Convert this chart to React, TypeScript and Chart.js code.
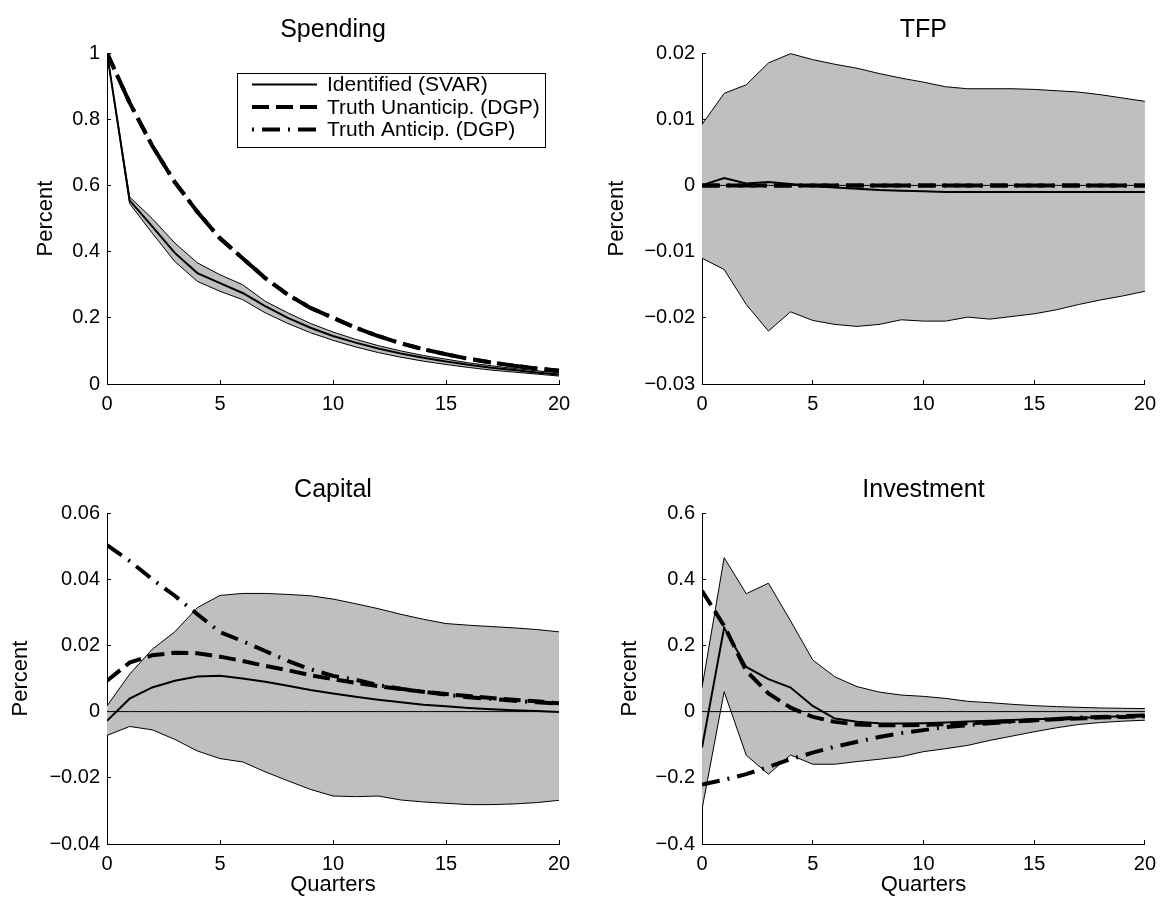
import React, { useEffect, useRef } from 'react';
import { Chart, registerables } from 'chart.js';

Chart.register(...registerables);

const FONT = "'Liberation Sans', Arial, Helvetica, sans-serif";

// ---------- data ----------
const quarters = [0, 1, 2, 3, 4, 5, 6, 7, 8, 9, 10, 11, 12, 13, 14, 15, 16, 17, 18, 19, 20];
const xTicks = [0, 5, 10, 15, 20];

const legendLabels = ['Identified (SVAR)', 'Truth Unanticip. (DGP)', 'Truth Anticip. (DGP)'];
const panelTitles = ['Spending', 'TFP', 'Capital', 'Investment'];

// Spending
const spendingId = [1.0, 0.555, 0.476, 0.396, 0.335, 0.305, 0.275, 0.235, 0.2, 0.17, 0.145, 0.125, 0.107, 0.092, 0.079, 0.068, 0.058, 0.049, 0.042, 0.035, 0.029];
const spendingHi = [1.0, 0.565, 0.5, 0.426, 0.366, 0.33, 0.3, 0.25, 0.215, 0.183, 0.157, 0.135, 0.116, 0.1, 0.086, 0.075, 0.064, 0.055, 0.047, 0.04, 0.034];
const spendingLo = [1.0, 0.545, 0.456, 0.37, 0.31, 0.28, 0.255, 0.215, 0.183, 0.155, 0.132, 0.112, 0.095, 0.081, 0.069, 0.059, 0.05, 0.042, 0.036, 0.03, 0.024];
const spendingUnant = [1.0, 0.85, 0.72, 0.61, 0.52, 0.44, 0.38, 0.32, 0.27, 0.23, 0.2, 0.17, 0.145, 0.123, 0.105, 0.09, 0.076, 0.065, 0.055, 0.047, 0.04];
const spendingAnt = [1.0, 0.85, 0.72, 0.61, 0.52, 0.44, 0.38, 0.32, 0.27, 0.23, 0.2, 0.17, 0.145, 0.123, 0.105, 0.09, 0.076, 0.065, 0.055, 0.047, 0.04];
const spendingTicks = [0, 0.2, 0.4, 0.6, 0.8, 1];

// TFP
const tfpId = [0, 0.0011, 0.0003, 0.0005, 0.0002, -0.0001, -0.0003, -0.0005, -0.0007, -0.0008, -0.0009, -0.001, -0.001, -0.001, -0.001, -0.001, -0.001, -0.001, -0.001, -0.001, -0.001];
const tfpHi = [0.0092, 0.0139, 0.0152, 0.0185, 0.0199, 0.019, 0.0183, 0.0177, 0.0169, 0.0162, 0.0156, 0.0149, 0.0146, 0.0146, 0.0146, 0.0145, 0.0143, 0.0141, 0.0137, 0.0132, 0.0127];
const tfpLo = [-0.011, -0.0127, -0.018, -0.022, -0.0191, -0.0204, -0.021, -0.0213, -0.021, -0.0203, -0.0205, -0.0205, -0.0199, -0.0202, -0.0198, -0.0194, -0.0188, -0.018, -0.0173, -0.0167, -0.016];
const tfpUnant = [0, 0, 0, 0, 0, 0, 0, 0, 0, 0, 0, 0, 0, 0, 0, 0, 0, 0, 0, 0, 0];
const tfpAnt = [0, 0, 0, 0, 0, 0, 0, 0, 0, 0, 0, 0, 0, 0, 0, 0, 0, 0, 0, 0, 0];
const tfpTicks = [-0.03, -0.02, -0.01, 0, 0.01, 0.02];

// Capital
const capitalId = [-0.0028, 0.0039, 0.0073, 0.0093, 0.0106, 0.0108, 0.01, 0.009, 0.0078, 0.0065, 0.0055, 0.0045, 0.0036, 0.0028, 0.0021, 0.0016, 0.0011, 0.0007, 0.0004, 0.0002, -0.0001];
const capitalHi = [0.0017, 0.0113, 0.0188, 0.0241, 0.0314, 0.0351, 0.0357, 0.0357, 0.0354, 0.035, 0.034, 0.0326, 0.0311, 0.0294, 0.0279, 0.0266, 0.0261, 0.0257, 0.0253, 0.0248, 0.0241];
const capitalLo = [-0.0072, -0.0045, -0.0055, -0.0084, -0.0119, -0.0142, -0.0152, -0.0182, -0.0209, -0.0235, -0.0255, -0.0257, -0.0255, -0.0267, -0.0273, -0.0277, -0.0281, -0.0281, -0.0279, -0.0275, -0.0268];
const capitalUnant = [0.0093, 0.0148, 0.017, 0.0178, 0.0176, 0.0166, 0.0153, 0.0138, 0.0125, 0.011, 0.0098, 0.0087, 0.0077, 0.0068, 0.006, 0.0053, 0.0047, 0.0041, 0.0036, 0.0031, 0.0025];
const capitalAnt = [0.0503, 0.0455, 0.04, 0.035, 0.0294, 0.024, 0.0213, 0.0183, 0.0153, 0.0128, 0.0108, 0.0096, 0.008, 0.0069, 0.006, 0.0051, 0.0043, 0.0038, 0.0033, 0.0028, 0.0024];
const capitalTicks = [-0.04, -0.02, 0, 0.02, 0.04, 0.06];

// Investment
const investmentId = [-0.109, 0.254, 0.135, 0.098, 0.0725, 0.017, -0.021, -0.031, -0.035, -0.036, -0.035, -0.033, -0.03, -0.028, -0.025, -0.023, -0.021, -0.019, -0.016, -0.014, -0.012];
const investmentHi = [0.0725, 0.465, 0.356, 0.388, 0.274, 0.156, 0.105, 0.0755, 0.059, 0.05, 0.046, 0.04, 0.031, 0.027, 0.022, 0.018, 0.015, 0.013, 0.011, 0.01, 0.009];
const investmentLo = [-0.295, 0.06, -0.132, -0.189, -0.131, -0.159, -0.159, -0.151, -0.144, -0.136, -0.121, -0.112, -0.102, -0.087, -0.074, -0.061, -0.049, -0.039, -0.033, -0.029, -0.026];
const investmentUnant = [0.365, 0.259, 0.123, 0.055, 0.012, -0.016, -0.031, -0.039, -0.041, -0.041, -0.04, -0.038, -0.035, -0.032, -0.029, -0.026, -0.023, -0.021, -0.018, -0.016, -0.014];
const investmentAnt = [-0.22, -0.206, -0.189, -0.167, -0.144, -0.124, -0.106, -0.091, -0.077, -0.065, -0.056, -0.047, -0.041, -0.035, -0.03, -0.026, -0.022, -0.018, -0.016, -0.014, -0.012];
const investmentTicks = [-0.4, -0.2, 0, 0.2, 0.4, 0.6];

const zeroLine = [0, 0, 0, 0, 0, 0, 0, 0, 0, 0, 0, 0, 0, 0, 0, 0, 0, 0, 0, 0, 0];

// ---------- styling ----------
const BAND = '#bfbfbf';
const DASH = [17, 7];
const DASHDOT = [18, 8, 2, 8];
const TITLE_SIZE = 25;

function fmt(v: number): string {
  if (Math.abs(v) < 1e-12) return '0';
  const s = String(Math.abs(v));
  return (v < 0 ? '\u2212' : '') + s;
}

type Panel = {
  title: string;
  id: number[];
  hi: number[];
  lo: number[];
  unant: number[];
  ant: number[];
  ticks: number[];
  zero: boolean;
  xTitle: boolean;
  legend: boolean;
  col: number;
  row: number;
  yTitleCenter: number;
};

const panels: Panel[] = [
  { title: panelTitles[0], id: spendingId, hi: spendingHi, lo: spendingLo, unant: spendingUnant, ant: spendingAnt, ticks: spendingTicks, zero: false, xTitle: false, legend: true, col: 0, row: 0, yTitleCenter: 46 },
  { title: panelTitles[1], id: tfpId, hi: tfpHi, lo: tfpLo, unant: tfpUnant, ant: tfpAnt, ticks: tfpTicks, zero: true, xTitle: false, legend: false, col: 1, row: 0, yTitleCenter: 33 },
  { title: panelTitles[2], id: capitalId, hi: capitalHi, lo: capitalLo, unant: capitalUnant, ant: capitalAnt, ticks: capitalTicks, zero: true, xTitle: true, legend: false, col: 0, row: 1, yTitleCenter: 20.5 },
  { title: panelTitles[3], id: investmentId, hi: investmentHi, lo: investmentLo, unant: investmentUnant, ant: investmentAnt, ticks: investmentTicks, zero: true, xTitle: true, legend: false, col: 1, row: 1, yTitleCenter: 46 },
];

const CW = 584;
const CH = 449;

const boxLegend = {
  id: 'boxLegend',
  afterDraw(chart: any) {
    const ctx = chart.ctx as CanvasRenderingContext2D;
    const area = chart.chartArea;
    const w = 308;
    const h = 74;
    const x0 = Math.round(area.right - 14 - w);
    const y0 = Math.round(area.top + 20);
    ctx.save();
    ctx.fillStyle = '#ffffff';
    ctx.fillRect(x0, y0, w, h);
    ctx.strokeStyle = '#000';
    ctx.lineWidth = 1;
    ctx.setLineDash([]);
    ctx.strokeRect(x0 + 0.5, y0 + 0.5, w, h);
    const ds = chart.data.datasets;
    const entries = legendLabels.map((lab) => ds.find((d: any) => d.label === lab));
    const dashes: number[][] = [[], DASH, [2, 8, 18, 8]];
    entries.forEach((d: any, i: number) => {
      const y = y0 + 11.5 + i * 22.5;
      ctx.beginPath();
      ctx.setLineDash(dashes[i]);
      ctx.lineCap = 'butt';
      ctx.lineWidth = d.borderWidth;
      ctx.strokeStyle = '#000';
      ctx.moveTo(x0 + 15, y);
      ctx.lineTo(x0 + 80, y);
      ctx.stroke();
      ctx.setLineDash([]);
      ctx.fillStyle = '#000';
      ctx.font = `21px ${FONT}`;
      ctx.textBaseline = 'middle';
      ctx.textAlign = 'left';
      ctx.fillText(d.label, x0 + 90, y + 1);
    });
    ctx.restore();
  },
};

function makeConfig(p: Panel): any {
  const datasets: any[] = [
    { label: legendLabels[2], data: p.ant, borderColor: '#000', borderWidth: 4, borderDash: DASHDOT, borderCapStyle: 'butt', fill: false, order: 0 },
    { label: legendLabels[1], data: p.unant, borderColor: '#000', borderWidth: 4, borderDash: DASH, borderCapStyle: 'butt', fill: false, order: 1 },
    { label: legendLabels[0], data: p.id, borderColor: '#000', borderWidth: 2, fill: false, order: 2 },
    { label: 'upper', data: p.hi, borderColor: '#000', borderWidth: 1, fill: '+1', backgroundColor: BAND, order: 4 },
    { label: 'lower', data: p.lo, borderColor: '#000', borderWidth: 1, fill: false, order: 5 },
  ];
  if (p.zero) {
    datasets.push({ label: 'zero', data: zeroLine, borderColor: '#000', borderWidth: 1, fill: false, order: 3 });
  }
  const titleCenter = p.row === 0 ? 30 : 41;
  const areaTop = p.row === 0 ? 53 : 64;
  const lh = TITLE_SIZE * 1.2;
  const tPadTop = titleCenter - lh / 2;
  const tPadBottom = areaTop - tPadTop - lh;
  const yWidth = p.col === 0 ? 107 : 118;
  const padRight = p.col === 0 ? 25 : 14;
  const xHeight = p.row === 0 ? 65 : 54;
  const yMin = p.ticks[0];
  const yMax = p.ticks[p.ticks.length - 1];

  const axisCommon = {
    border: { display: true, color: '#000', width: 1 },
    grid: { display: true, drawOnChartArea: false, drawTicks: true, tickLength: -4, color: '#000', lineWidth: 1 },
  };

  return {
    type: 'line',
    data: { labels: quarters, datasets },
    options: {
      responsive: false,
      maintainAspectRatio: false,
      animation: false,
      events: [],
      layout: { padding: { left: 0, right: padRight, top: 0, bottom: 0 } },
      elements: { point: { radius: 0 }, line: { tension: 0 } },
      plugins: {
        legend: { display: false },
        tooltip: { enabled: false },
        filler: { drawTime: 'beforeDatasetsDraw', propagate: false },
        title: {
          display: true,
          text: p.title,
          fullSize: false,
          color: '#000',
          font: { size: TITLE_SIZE, weight: 'normal', family: FONT, lineHeight: 1.2 },
          padding: { top: tPadTop, bottom: tPadBottom },
        },
      },
      scales: {
        x: {
          type: 'linear',
          min: 0,
          max: 20,
          ...axisCommon,
          afterBuildTicks: (s: any) => { s.ticks = xTicks.map((v) => ({ value: v })); },
          afterFit: (s: any) => { s.height = xHeight; },
          ticks: { color: '#000', font: { size: 20, family: FONT }, padding: 12, maxRotation: 0, autoSkip: false, callback: (v: any) => fmt(Number(v)) },
          title: { display: p.xTitle, text: 'Quarters', color: '#000', font: { size: 22, family: FONT, lineHeight: 1.2 }, padding: { top: 0, bottom: 0 } },
        },
        y: {
          type: 'linear',
          min: yMin,
          max: yMax,
          ...axisCommon,
          afterBuildTicks: (s: any) => { s.ticks = p.ticks.map((v) => ({ value: v })); },
          afterFit: (s: any) => { s.width = yWidth; },
          ticks: { color: '#000', font: { size: 20, family: FONT }, padding: 11, autoSkip: false, callback: (v: any) => fmt(Number(v)) },
          title: { display: true, text: 'Percent', color: '#000', font: { size: 22, family: FONT, lineHeight: 1.2 }, padding: { top: p.yTitleCenter - 13.2, bottom: 0 } },
        },
      },
    },
    plugins: p.legend ? [boxLegend] : [],
  };
}

function PanelChart({ p }: { p: Panel }) {
  const ref = useRef<HTMLCanvasElement | null>(null);
  useEffect(() => {
    if (!ref.current) return;
    const chart = new Chart(ref.current, makeConfig(p));
    return () => chart.destroy();
  }, [p]);
  return (
    <canvas
      ref={ref}
      width={CW}
      height={CH}
      style={{ position: 'absolute', left: p.col * CW, top: p.row * CH, width: CW, height: CH }}
    />
  );
}

export default function App() {
  return (
    <div style={{ position: 'absolute', left: 0, top: 0, width: 1168, height: 898, background: '#fff', overflow: 'hidden' }}>
      {panels.map((p) => (
        <PanelChart key={p.title} p={p} />
      ))}
    </div>
  );
}
